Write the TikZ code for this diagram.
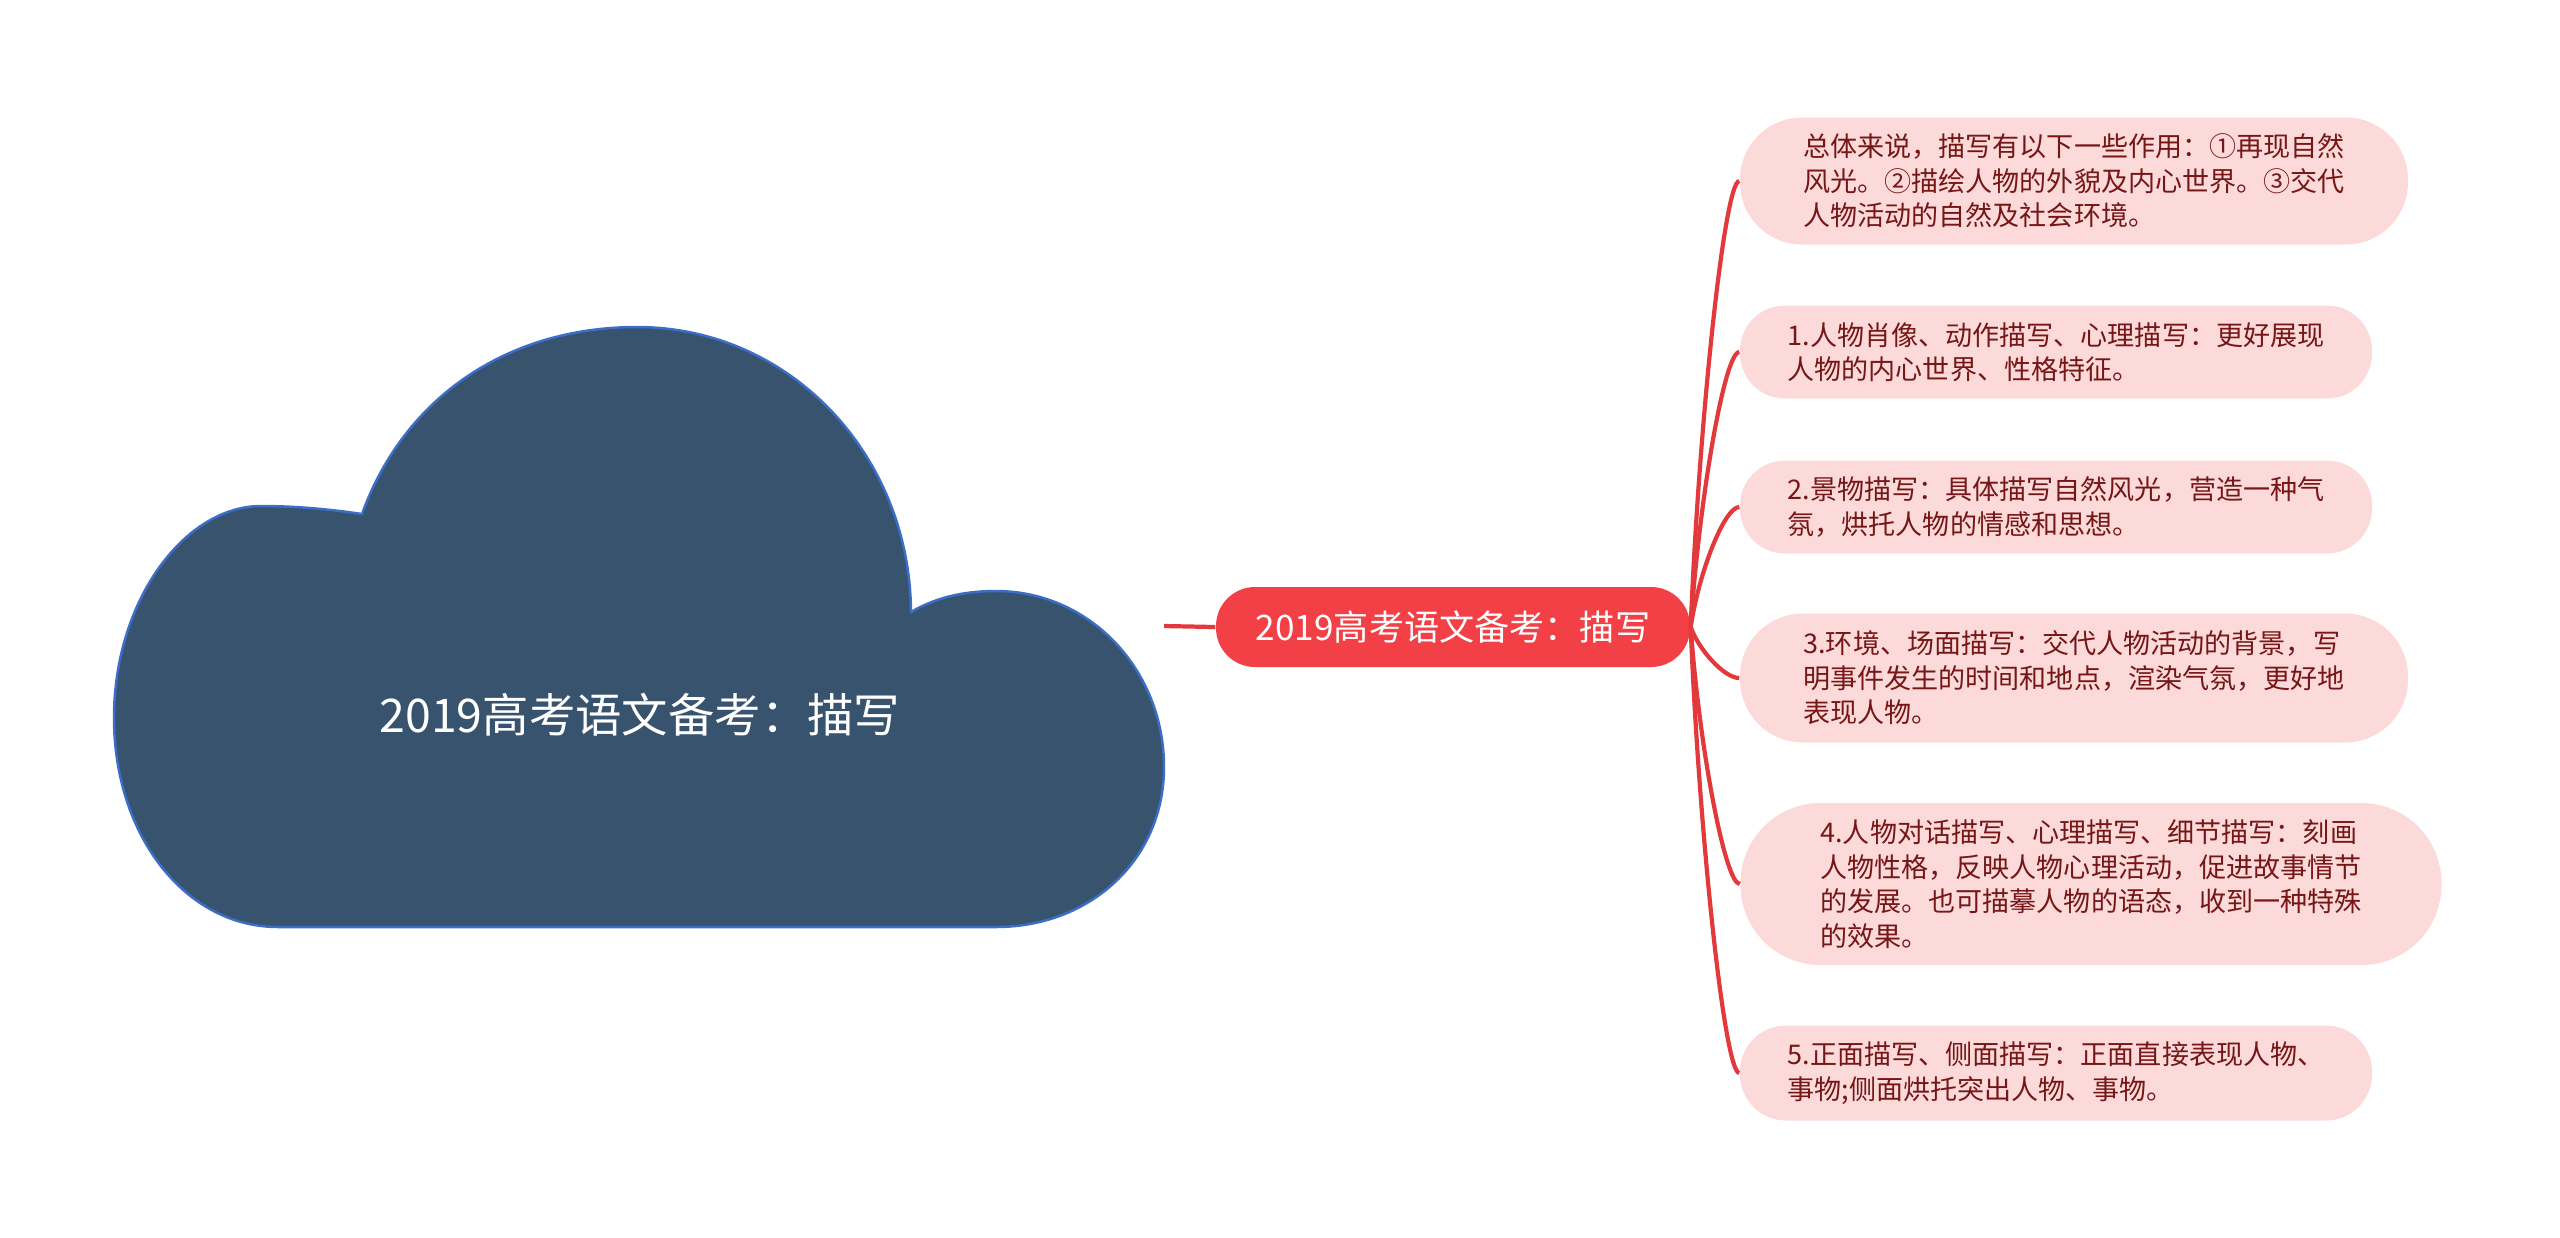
\documentclass[tikz,border=0pt]{standalone}
\usepackage{fontspec}
\setmainfont{Noto Sans CJK SC}
\usetikzlibrary{calc}
\definecolor{cloudfill}{RGB}{55,83,110}
\definecolor{cloudline}{RGB}{60,110,200}
\definecolor{hubred}{RGB}{242,64,70}
\definecolor{linkred}{RGB}{226,58,60}
\definecolor{leafpink}{RGB}{252,218,218}
\definecolor{leaftext}{RGB}{118,22,22}
\begin{document}
\begin{tikzpicture}[
  line join=round,
  hub/.style={fill=hubred,text=white,rounded corners=0.39cm,minimum width=4.74cm,minimum height=0.8cm,inner sep=0pt,font=\fontsize{10}{12}\selectfont},
  leaf/.style={fill=leafpink,text=leaftext,rounded corners=#1,align=left,inner sep=0pt,font=\fontsize{7.7}{9.8}\selectfont},
  link/.style={draw=linkred,line width=1.2pt}
]
\useasboundingbox (0,0) rectangle (25.6,-12.37);

% cloud
\filldraw[fill=cloudfill,draw=cloudline,line width=0.7pt]
  (2.78,-9.27) .. controls (1.85,-9.27) and (1.14,-8.35) .. (1.14,-7.18)
  .. controls (1.14,-6.00) and (1.85,-5.06) .. (2.61,-5.06)
  .. controls (3.00,-5.06) and (3.35,-5.10) .. (3.62,-5.14)
  .. controls (4.05,-3.95) and (5.10,-3.27) .. (6.37,-3.27)
  .. controls (7.90,-3.27) and (9.10,-4.55) .. (9.11,-6.12)
  .. controls (9.40,-5.95) and (9.70,-5.91) .. (9.96,-5.91)
  .. controls (10.90,-5.91) and (11.64,-6.70) .. (11.64,-7.67)
  .. controls (11.64,-8.60) and (10.90,-9.27) .. (9.96,-9.27) -- cycle;
\node[text=white,font=\fontsize{13.2}{16}\selectfont] (root) at (6.40,-7.15) {2019高考语文备考：描写};
\coordinate (rootout) at (11.64,-6.26);

\node[hub] (hub) at (14.53,-6.27) {2019高考语文备考：描写};
\draw[link] (rootout) -- (hub.west);

% branches
\node[leaf=0.62cm,minimum width=6.68cm,minimum height=1.27cm] (n1) at (20.74,-1.81)
  {总体来说，描写有以下一些作用：①再现自然\\风光。②描绘人物的外貌及内心世界。③交代\\人物活动的自然及社会环境。};
\node[leaf=0.45cm,minimum width=6.32cm,minimum height=0.93cm] (n2) at (20.56,-3.52)
  {1.人物肖像、动作描写、心理描写：更好展现\\人物的内心世界、性格特征。};
\node[leaf=0.45cm,minimum width=6.32cm,minimum height=0.93cm] (n3) at (20.56,-5.07)
  {2.景物描写：具体描写自然风光，营造一种气\\氛，烘托人物的情感和思想。};
\node[leaf=0.63cm,minimum width=6.68cm,minimum height=1.29cm] (n4) at (20.74,-6.78)
  {3.环境、场面描写：交代人物活动的背景，写\\明事件发生的时间和地点，渲染气氛，更好地\\表现人物。};
\node[leaf=0.8cm,minimum width=7.01cm,minimum height=1.62cm] (n5) at (20.91,-8.84)
  {4.人物对话描写、心理描写、细节描写：刻画\\人物性格，反映人物心理活动，促进故事情节\\的发展。也可描摹人物的语态，收到一种特殊\\的效果。};
\node[leaf=0.46cm,minimum width=6.32cm,minimum height=0.95cm] (n6) at (20.56,-10.73)
  {5.正面描写、侧面描写：正面直接表现人物、\\事物;侧面烘托突出人物、事物。};

\foreach \n in {1,...,6}
  \draw[link] (hub.east) .. controls ($(hub.east)!0.45!(hub.east |- n\n.west)+(0.08,0)$) and ($(n\n.west)+(-0.15,0)$) .. (n\n.west);
\end{tikzpicture}
\end{document}
